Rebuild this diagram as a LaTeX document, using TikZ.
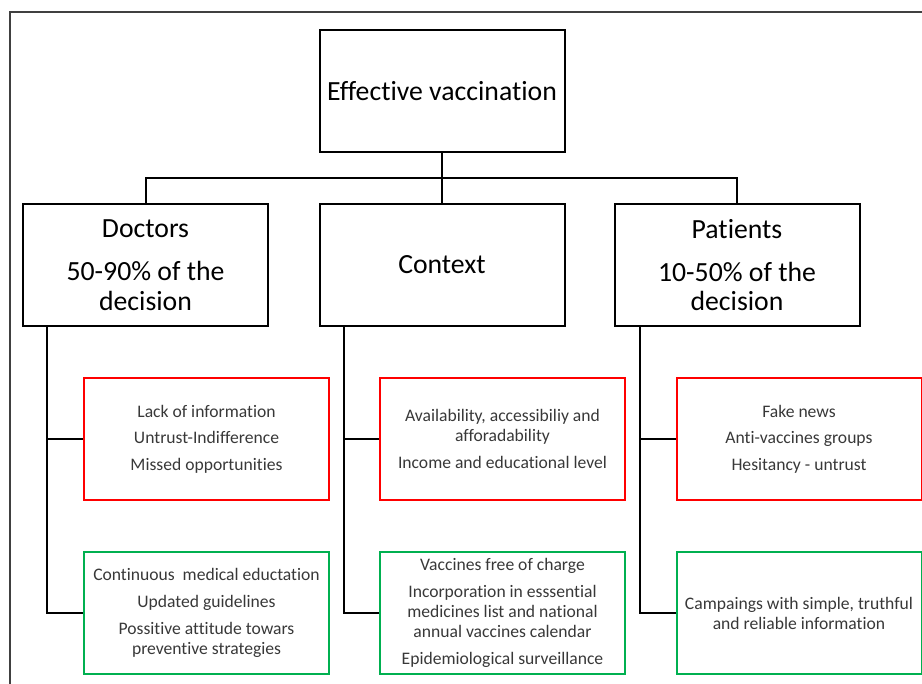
\documentclass[tikz,border=0pt]{standalone}
\usepackage{fontspec}
\setmainfont{Carlito}[Ligatures={NoCommon}]

\begin{document}
\begin{tikzpicture}[x=0.75pt,y=-0.75pt]
            \tikzset{box/.style = {shape=rectangle, draw=black, line width=1.5pt, minimum width=183.75pt, minimum height=91.5pt, inner sep=0pt, align=center, font=\fontsize{20.8}{22}\selectfont}}
            \tikzset{badbox/.style = {box, draw=red, text=black!78, font=\fontsize{13.2}{15}\selectfont}}
            \tikzset{goodbox/.style = {box, draw={rgb,255:red,0;green,176;blue,80}, text=black!78, font=\fontsize{13.2}{15}\selectfont}}
            \tikzset{wire/.style = {draw=black, line width=1.5pt}}
            \useasboundingbox (0,0) rectangle (922,684);
            % frame
            \draw[black!75, line width=1pt] (10,684) -- (10,12) -- (922,12);
            % main boxes
            \node[box] (top) at (442,91.5) {Effective vaccination};
            \node[box] (doctors) at (145.5,265) {Doctors\\[10.5pt] 50-90\% of the\\ decision};
            \node[box] (context) at (442,265) {Context};
            \node[box] (patients) at (737,265) {Patients\\[10.5pt] 10-50\% of the\\ decision};
            % barriers
            \node[badbox] (docbad) at (206.5,439) {Lack of information\\[5pt] Untrust-Indifference\\[5pt] Missed opportunities};
            \node[badbox] (ctxbad) at (502.5,439) {Availability, accessibiliy and\\ afforadability\\[5pt] Income and educational level};
            \node[badbox] (patbad) at (799,439) {Fake news\\[5pt] Anti-vaccines groups\\[5pt] Hesitancy - untrust};
            % strategies
            \node[goodbox] (docgood) at (206.5,613) {Continuous\ \ medical eductation\\[5pt] Updated guidelines\\[5pt] Possitive attitude towars\\ preventive strategies};
            \node[goodbox] (ctxgood) at (502.5,613) {Vaccines free of charge\\[5pt] Incorporation in esssential\\ medicines list and national\\ annual vaccines calendar\\[5pt] Epidemiological surveillance};
            \node[goodbox] (patgood) at (799,613) {Campaings with simple, truthful\\ and reliable information};
            % tree
            \draw[wire] (top) to (context);
            \draw[wire] (doctors.north) -- ++(0,-25) -| (patients.north);
            \draw[wire] ([xshift=18.75pt]doctors.south west) |- (docbad.west);
            \draw[wire] ([xshift=18.75pt]doctors.south west) |- (docgood.west);
            \draw[wire] ([xshift=18.75pt]context.south west) |- (ctxbad.west);
            \draw[wire] ([xshift=18.75pt]context.south west) |- (ctxgood.west);
            \draw[wire] ([xshift=19.5pt]patients.south west) |- (patbad.west);
            \draw[wire] ([xshift=19.5pt]patients.south west) |- (patgood.west);
        \end{tikzpicture}
\end{document}
